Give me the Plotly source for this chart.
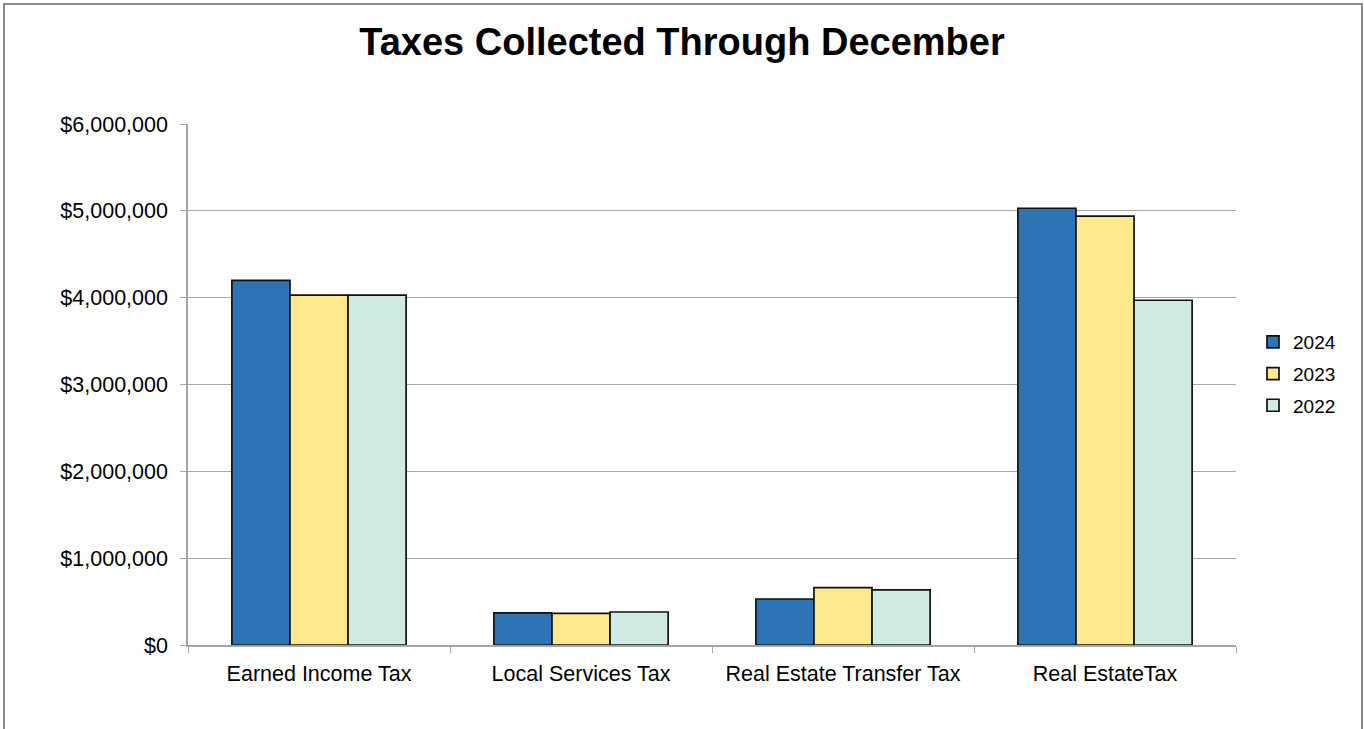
import plotly.graph_objects as go

categories = ["Earned Income Tax", "Local Services Tax", "Real Estate Transfer Tax", "Real EstateTax"]
years = ["2024", "2023", "2022"]
values_2024 = [4200000, 370000, 530000, 5030000]
values_2023 = [4030000, 365000, 660000, 4940000]
values_2022 = [4030000, 380000, 635000, 3970000]
colors = ["#2E74B5", "#FFE98F", "#D0EBE2"]

series = [values_2024, values_2023, values_2022]

fig = go.Figure()
for name, vals, col in zip(years, series, colors):
    fig.add_trace(go.Bar(
        x=categories, y=vals, name=name, legendgroup=name,
        marker=dict(color=col, line=dict(color="#111111", width=1.7)),
    ))

W, H = 1364, 729
L, R, T, B = 188, 128, 124, 84
pw, ph = W - L - R, H - T - B

def px(x):
    return (x - L) / pw

def py(y):
    return (H - B - y) / ph

FONT = "Liberation Sans, Arial, sans-serif"

fig.update_layout(
    width=W, height=H,
    margin=dict(l=L, r=R, t=T, b=B),
    paper_bgcolor="white", plot_bgcolor="white",
    barmode="group", bargap=0.335, bargroupgap=0,
    font=dict(family=FONT, size=21.5, color="#000000"),
    title=dict(text="<b>Taxes Collected Through December</b>", x=0.5, xanchor="center",
               y=1 - 42 / H, yanchor="middle",
               font=dict(size=38, family=FONT, color="#000")),
    legend=dict(x=px(1253), y=py(323), xanchor="left", yanchor="top",
                font=dict(size=19), itemwidth=30, tracegroupgap=4,
                traceorder="grouped", bgcolor="rgba(0,0,0,0)"),
    showlegend=True,
    xaxis=dict(showline=True, linecolor="#a6a6a6", linewidth=1.5,
               ticks="outside", tickcolor="#a6a6a6", ticklen=6, tickson="boundaries",
               ticklabelstandoff=8,
               tickfont=dict(size=21.5), showgrid=False),
    yaxis=dict(range=[0, 6000000], dtick=1000000, tickprefix="$", tickformat=",d",
               showline=True, linecolor="#a6a6a6", linewidth=1.5,
               ticks="outside", tickcolor="#a6a6a6", ticklen=6,
               ticklabelstandoff=8,
               gridcolor="#a6a6a6", gridwidth=1.2, zeroline=False,
               tickfont=dict(size=21.5)),
    shapes=[dict(type="path", xref="paper", yref="paper",
                 path=f"M {px(4)} {py(740)} L {px(4)} {py(4)} L {px(1362)} {py(4)} L {px(1362)} {py(740)}",
                 line=dict(color="#8c8c8c", width=2))],
)

fig.write_html("out.html")
